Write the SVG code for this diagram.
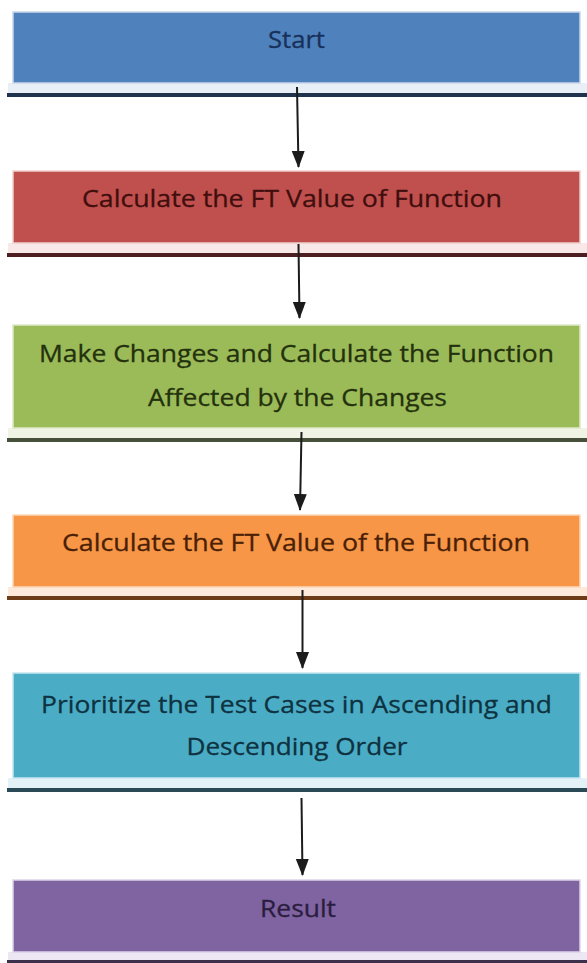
<svg xmlns="http://www.w3.org/2000/svg" width="587" height="963" viewBox="0 0 587 963">
  <style>
    .lbl { font-family: "Open Sans", "Liberation Sans", sans-serif; font-size: 24px; text-anchor: middle; stroke-width: 0.3; }
    .box { stroke-width: 1.5; }
    .conn { stroke: #1b1b1b; stroke-width: 2; fill: none; }
  </style>
  <defs>
    <marker id="arrow" markerUnits="userSpaceOnUse" markerWidth="18" markerHeight="14" refX="16" refY="6.5" orient="auto">
      <path d="M0,0 L17,6.5 L0,13 Z" fill="#1b1b1b"/>
    </marker>
  </defs>
  <rect x="0" y="0" width="587" height="963" fill="#ffffff"/>

  <g id="node-start">
    <rect x="8" y="83" width="579" height="10" fill="#e9eff7"/>
    <rect class="box" x="13" y="12" width="567" height="71" fill="#4f81bd" stroke="#c9d8ec"/>
    <rect x="7" y="93" width="580" height="4" fill="#1f334f"/>
    <text class="lbl" x="296.5" y="48" fill="#17315a" stroke="#17315a" textLength="57" lengthAdjust="spacingAndGlyphs">Start</text>
  </g>

  <g id="node-calc1">
    <rect x="8" y="243" width="579" height="10" fill="#f8e8e8"/>
    <rect class="box" x="13" y="171" width="567" height="72" fill="#c0504d" stroke="#efcfcd"/>
    <rect x="7" y="253" width="580" height="4" fill="#4e1f22"/>
    <text class="lbl" x="292" y="207" fill="#3f0e0d" stroke="#3f0e0d" textLength="420" lengthAdjust="spacingAndGlyphs">Calculate the FT Value of Function</text>
  </g>

  <g id="node-changes">
    <rect x="8" y="428" width="579" height="10" fill="#eff4e4"/>
    <rect class="box" x="13" y="325" width="567" height="103" fill="#9bbb59" stroke="#dfe9c9"/>
    <rect x="7" y="438" width="580" height="4" fill="#46503a"/>
    <text class="lbl" x="296.5" y="362" fill="#24310d" stroke="#24310d" textLength="515" lengthAdjust="spacingAndGlyphs">Make Changes and Calculate the Function</text>
    <text class="lbl" x="297.5" y="406" fill="#24310d" stroke="#24310d" textLength="299" lengthAdjust="spacingAndGlyphs">Affected by the Changes</text>
  </g>

  <g id="node-calc2">
    <rect x="8" y="587" width="579" height="9" fill="#fdeadb"/>
    <rect class="box" x="13" y="515" width="567" height="72" fill="#f79646" stroke="#fcd8bb"/>
    <rect x="7" y="596" width="580" height="4" fill="#6e3b17"/>
    <text class="lbl" x="296" y="551" fill="#4a1f06" stroke="#4a1f06" textLength="468" lengthAdjust="spacingAndGlyphs">Calculate the FT Value of the Function</text>
  </g>

  <g id="node-prioritize">
    <rect x="8" y="778" width="579" height="10" fill="#e3f2f7"/>
    <rect class="box" x="13" y="673" width="567" height="105" fill="#4bacc6" stroke="#c7e6ef"/>
    <rect x="7" y="788" width="580" height="4" fill="#2a4a55"/>
    <text class="lbl" x="296.5" y="713" fill="#0e3240" stroke="#0e3240" textLength="511" lengthAdjust="spacingAndGlyphs">Prioritize the Test Cases in Ascending and</text>
    <text class="lbl" x="297" y="755" fill="#0e3240" stroke="#0e3240" textLength="221" lengthAdjust="spacingAndGlyphs">Descending Order</text>
  </g>

  <g id="node-result">
    <rect x="8" y="952" width="579" height="8" fill="#ede7f3"/>
    <rect class="box" x="13" y="880" width="567" height="72" fill="#8064a2" stroke="#dcd3e8"/>
    <rect x="7" y="960" width="580" height="3" fill="#3b2f4b"/>
    <text class="lbl" x="298" y="917" fill="#2a1d3e" stroke="#2a1d3e" textLength="76" lengthAdjust="spacingAndGlyphs">Result</text>
  </g>

  <g id="connectors">
    <line class="conn" x1="297" y1="87" x2="298.5" y2="167" marker-end="url(#arrow)"/>
    <line class="conn" x1="298.5" y1="244" x2="299.5" y2="318" marker-end="url(#arrow)"/>
    <line class="conn" x1="301.5" y1="432" x2="300" y2="510" marker-end="url(#arrow)"/>
    <line class="conn" x1="302.5" y1="590" x2="302.5" y2="668" marker-end="url(#arrow)"/>
    <line class="conn" x1="301.5" y1="798" x2="302.5" y2="875" marker-end="url(#arrow)"/>
  </g>
</svg>
